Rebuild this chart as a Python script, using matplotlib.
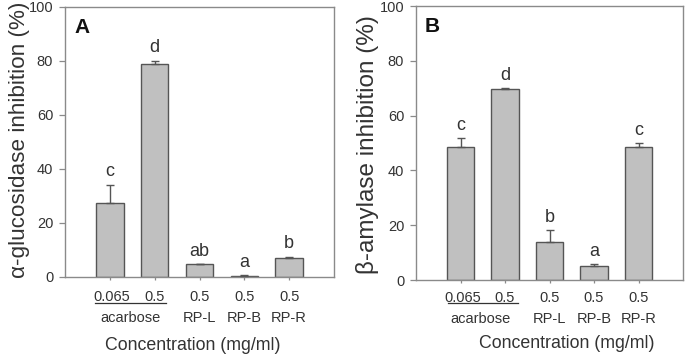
import matplotlib
matplotlib.use("Agg")
import matplotlib.pyplot as plt
from matplotlib.lines import Line2D

plt.rcParams['font.family'] = ['Liberation Sans', 'DejaVu Sans']

# ---------------- data ----------------
positions = [1, 2, 3, 4, 5]
conc_labels = ["0.065", "0.5", "0.5", "0.5", "0.5"]
group_labels = ["acarbose", "RP-L", "RP-B", "RP-R"]
group_pos = [1.45, 3, 4, 5]

glucosidase_mean = [27.5, 78.8, 4.7, 0.2, 6.9]
glucosidase_err = [6.7, 1.3, 0.0, 0.5, 0.6]
glucosidase_sig = ["c", "d", "ab", "a", "b"]

amylase_mean = [48.7, 69.6, 13.9, 5.2, 48.5]
amylase_err = [3.0, 0.3, 4.3, 0.7, 1.4]
amylase_sig = ["c", "d", "b", "a", "c"]

yticks = [0, 20, 40, 60, 80, 100]

# ---------------- style ----------------
TXT = "#333333"
SPINE = "#8a8a8a"
BAR = "#c0c0c0"
EDGE = "#555555"

fig = plt.figure(figsize=(6.89, 3.54), dpi=100)
axA = fig.add_axes([65/689, 1-277/354, 269/689, 270/354])
axB = fig.add_axes([416/689, 1-280/354, 267/689, 274/354])


def panel(ax, means, errs, sig, ylabel, letter, ylab_size, ylab_x, ylab_y,
          xlab_x, xlab_off, row_off1, row_off2, uline):
    ax.bar(positions, means, width=0.61, color=BAR, edgecolor=EDGE,
           linewidth=1.0, zorder=2)
    ax.errorbar(positions, means, yerr=[[0]*len(errs), errs], fmt='none',
                ecolor=EDGE, elinewidth=1.0, capsize=3, capthick=1.0, zorder=3)
    for x, m, e, s in zip(positions, means, errs, sig):
        ax.annotate(s, xy=(x, m + e), xytext=(0, 6), textcoords='offset points',
                    ha='center', va='baseline', fontsize=13, color=TXT)
    ax.set_xlim(0, 6)
    ax.set_ylim(0, 100)
    ax.set_yticks(yticks)
    ax.set_yticklabels([str(v) for v in yticks], fontsize=10.5, color=TXT)
    ax.set_xticks(positions)
    ax.set_xticklabels([])
    ax.tick_params(axis='y', direction='out', length=4.5, width=0.9,
                   color=SPINE, pad=4)
    ax.tick_params(axis='x', direction='out', length=2.5, width=0.9,
                   color=SPINE)
    for sp in ax.spines.values():
        sp.set_color(SPINE)
        sp.set_linewidth(1.0)
    # first row of x labels
    for x, t in zip(positions, conc_labels):
        ax.annotate(t, xy=(x, 0), xycoords=('data', 'axes fraction'),
                    xytext=(1.5 if t == "0.065" else 0, -row_off1),
                    textcoords='offset points', ha='center', va='center',
                    fontsize=10.5, color=TXT)
    # second row
    for x, t in zip(group_pos, group_labels):
        ax.annotate(t, xy=(x, 0), xycoords=('data', 'axes fraction'),
                    xytext=(0, -row_off2), textcoords='offset points',
                    ha='center', va='center', fontsize=10.5, color=TXT)
    # underline for acarbose concentrations
    ax.add_line(Line2D([uline[0], uline[1]], [uline[2], uline[2]],
                       transform=ax.get_xaxis_transform(), color=TXT,
                       linewidth=0.9, clip_on=False))
    ax.annotate("Concentration (mg/ml)", xy=(xlab_x, 0),
                xycoords=('data', 'axes fraction'), xytext=(0, -xlab_off),
                textcoords='offset points', ha='center', va='center',
                fontsize=12.8, color=TXT)
    ax.set_ylabel(ylabel, fontsize=ylab_size, color=TXT)
    ax.yaxis.label.set_verticalalignment('center')
    ax.yaxis.set_label_coords(ylab_x, ylab_y)
    ax.text(0.034, 0.905, letter, transform=ax.transAxes, ha='left',
            va='baseline', fontsize=15, fontweight='bold', color='#111111')


panel(axA, glucosidase_mean, glucosidase_err, glucosidase_sig,
      "α-glucosidase inhibition (%)", "A", 16.2, -0.168, 0.507,
      2.86, 49, 14.4, 29.5, (0.67, 2.25, -26/270))
panel(axB, amylase_mean, amylase_err, amylase_sig,
      "β-amylase inhibition (%)", "B", 17.5, -0.18, 0.495,
      3.39, 45.5, 13.0, 28.0, (0.72, 2.29, -23/274))

fig.savefig("out.png", dpi=100)
